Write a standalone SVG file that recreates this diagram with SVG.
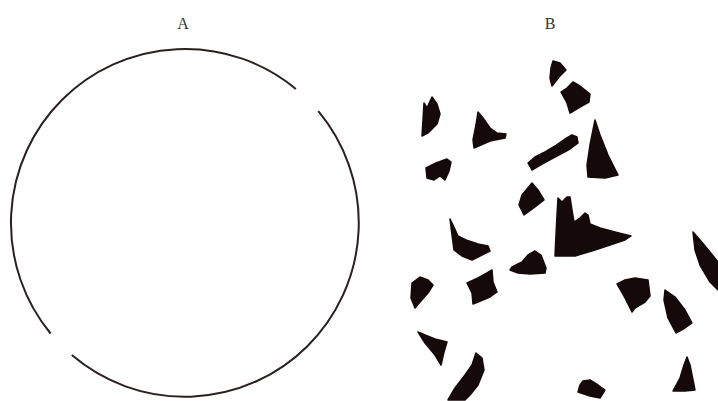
<svg xmlns="http://www.w3.org/2000/svg" width="718" height="401" viewBox="0 0 718 401">
<style>
.lbl{font-family:"Liberation Serif","DejaVu Serif",serif;font-size:16px;fill:#333;text-anchor:middle}
.arc{fill:none;stroke:#2a2020;stroke-width:2}
.frag{fill:#160909;stroke:#160909;stroke-width:1.5;stroke-linejoin:round}
</style>
<rect width="718" height="401" fill="#fff"/>
<g id="panelA">
<text class="lbl" x="183" y="29">A</text>
<path class="arc" d="M318.3,111.2 A174,174 0 0 1 71.8,355.1"/>
<path class="arc" d="M50.6,333.5 A174,174 0 0 1 295.9,88.9"/>
</g>
<g id="panelB">
<text class="lbl" x="550" y="29">B</text>
<polygon class="frag" points="424,103 427,108 432,97 437,104 440,114 437,124 428,133 422,136 423,120"/>
<polygon class="frag" points="478,112 483,118 490,128 497,133 506,134 505,138 490,141 474,148 473,140 476,125"/>
<polygon class="frag" points="553,61 560,63 566,70 560,76 552,86 550,78 551,68"/>
<polygon class="frag" points="561,92 567,88 573,82 580,86 590,94 589,102 580,107 570,113 567,103"/>
<polygon class="frag" points="528,163 535,157 545,152 555,146 565,139 572,135 577,137 578,143 570,149 555,157 542,164 532,170"/>
<polygon class="frag" points="595,120 600,135 608,155 618,175 605,178 588,177 587,165 590,145"/>
<polygon class="frag" points="426,168 436,163 447,159 451,162 449,171 445,180 440,176 434,180 427,178"/>
<polygon class="frag" points="532,183 538,190 544,200 535,207 524,215 519,205 522,195"/>
<polygon class="frag" points="450,219 453,225 458,236 466,240 478,244 488,246 490,251 480,256 472,260 462,256 454,250 452,235"/>
<polygon class="frag" points="512,267 522,262 528,255 535,251 541,255 546,268 545,273 530,274 518,273 510,270"/>
<polygon class="frag" points="558,198 562,202 567,197 570,197 572,210 574,222 580,218 585,213 588,215 590,224 600,228 615,232 631,236 625,240 610,245 595,250 575,256 555,256 556,235 557,215"/>
<polygon class="frag" points="693,232 700,240 710,252 718,262 718,290 710,282 700,265 695,250"/>
<polygon class="frag" points="412,283 420,277 428,280 433,285 428,293 420,302 415,308 411,298"/>
<polygon class="frag" points="467,283 478,278 487,273 492,270 493,282 497,292 490,297 478,302 473,304 472,293"/>
<polygon class="frag" points="418,332 425,335 435,339 447,342 444,352 441,365 435,355 425,343"/>
<polygon class="frag" points="476,353 482,358 484,370 478,385 470,395 465,400 448,400 455,388 465,375 472,365"/>
<polygon class="frag" points="617,284 625,280 635,278 648,280 650,296 645,302 635,308 632,312 625,298"/>
<polygon class="frag" points="665,290 675,297 685,310 692,323 685,328 676,333 668,318 664,300"/>
<polygon class="frag" points="687,357 690,365 692,375 695,390 685,391 673,391 680,378 684,365"/>
<polygon class="frag" points="583,381 590,380 598,385 605,390 600,398 590,396 578,392 580,385"/>
</g>
</svg>
